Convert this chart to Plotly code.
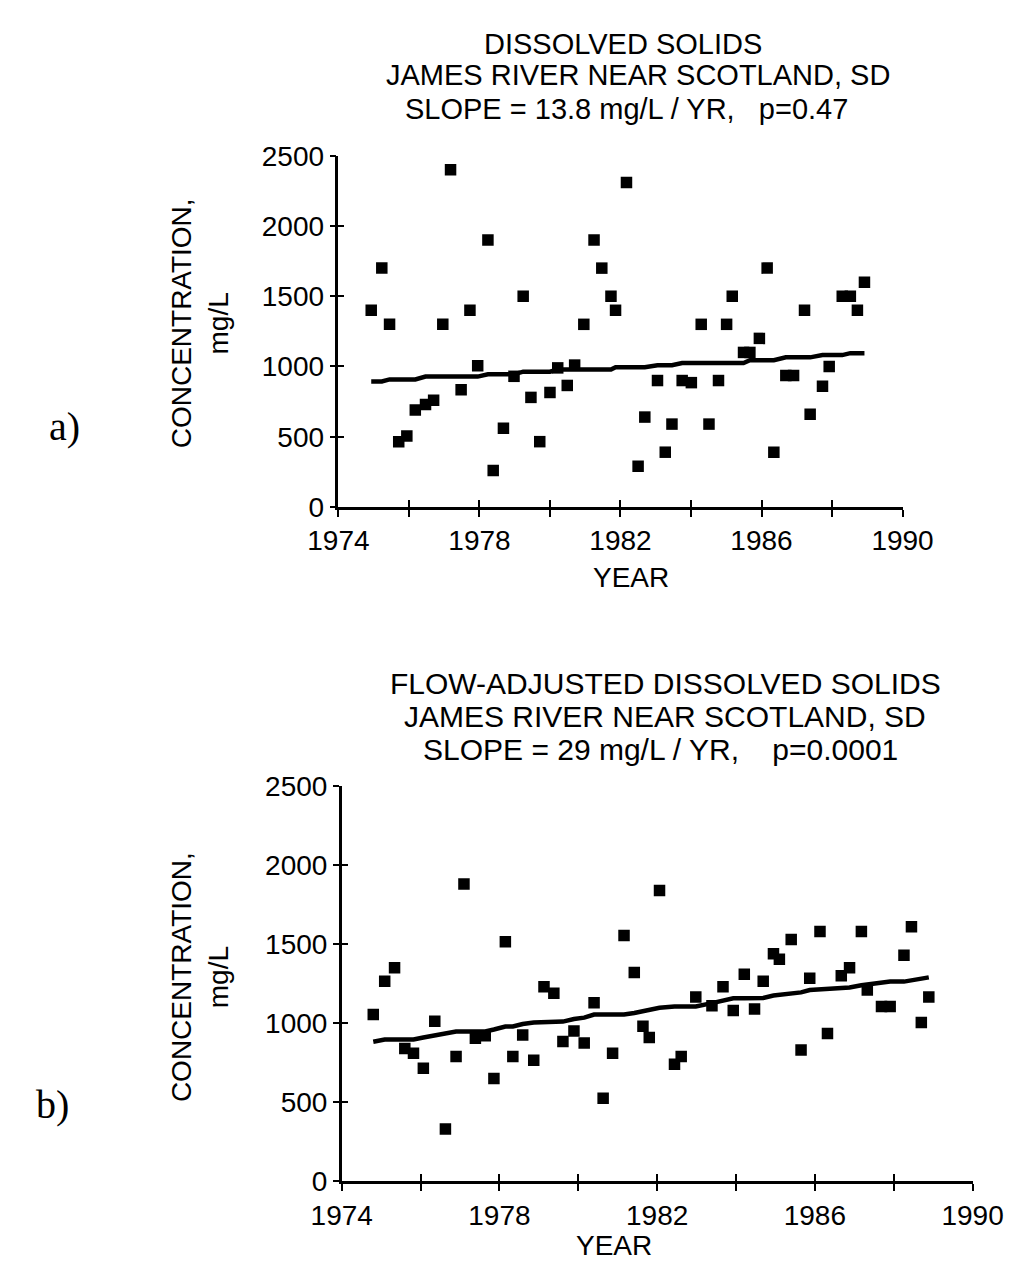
import plotly.graph_objects as go

W, H = 1036, 1281
FONT = "Liberation Sans, Arial, Helvetica, sans-serif"
SERIF = "Liberation Serif, Times New Roman, serif"

# a) dissolved solids, mg/L
years_a = [1974.93, 1975.23, 1975.45, 1975.71, 1975.94, 1976.18, 1976.47, 1976.70, 1976.96, 1977.18,
           1977.48, 1977.73, 1977.95, 1978.24, 1978.39, 1978.68, 1978.98, 1979.24, 1979.46, 1979.71,
           1980.00, 1980.22, 1980.49, 1980.70, 1980.96, 1981.25, 1981.47, 1981.73, 1981.86, 1982.17,
           1982.50, 1982.69, 1983.05, 1983.27, 1983.46, 1983.75, 1984.01, 1984.29, 1984.51, 1984.78,
           1985.01, 1985.17, 1985.49, 1985.67, 1985.94, 1986.16, 1986.35, 1986.69, 1986.91, 1987.22,
           1987.38, 1987.73, 1987.92, 1988.29, 1988.52, 1988.72, 1988.92]
tds_a = [1400, 1700, 1300, 465, 505, 690, 730, 760, 1300, 2400,
         835, 1400, 1005, 1900, 260, 560, 930, 1500, 780, 465,
         815, 990, 865, 1010, 1300, 1900, 1700, 1500, 1400, 2310,
         290, 640, 900, 390, 590, 900, 885, 1300, 590, 900,
         1300, 1500, 1100, 1100, 1200, 1700, 390, 935, 935, 1400,
         660, 860, 1000, 1500, 1500, 1400, 1600]
trend_a = [894, 894, 908, 908, 908, 908, 928, 928, 928, 928,
           928, 928, 928, 944, 944, 944, 944, 963, 963, 963,
           963, 979, 979, 979, 979, 979, 979, 979, 995, 995,
           995, 995, 1009, 1009, 1009, 1025, 1025, 1025, 1025, 1025,
           1025, 1025, 1025, 1044, 1044, 1044, 1044, 1065, 1065, 1065,
           1065, 1081, 1081, 1081, 1095, 1095, 1095]

# b) flow-adjusted dissolved solids, mg/L
years_b = [1974.80, 1975.09, 1975.34, 1975.60, 1975.82, 1976.07, 1976.36, 1976.63, 1976.90, 1977.10,
           1977.39, 1977.64, 1977.86, 1978.15, 1978.34, 1978.59, 1978.87, 1979.13, 1979.38, 1979.61,
           1979.89, 1980.15, 1980.40, 1980.63, 1980.87, 1981.16, 1981.42, 1981.64, 1981.80, 1982.06,
           1982.44, 1982.61, 1982.98, 1983.39, 1983.67, 1983.93, 1984.21, 1984.47, 1984.69, 1984.95,
           1985.10, 1985.40, 1985.65, 1985.87, 1986.13, 1986.32, 1986.67, 1986.88, 1987.18, 1987.33,
           1987.69, 1987.91, 1988.26, 1988.45, 1988.70, 1988.89]
tds_b = [1055, 1265, 1350, 840, 810, 715, 1012, 330, 790, 1880,
         905, 920, 650, 1515, 790, 925, 765, 1230, 1190, 885,
         950, 875, 1130, 525, 810, 1555, 1320, 980, 910, 1839,
         740, 790, 1165, 1110, 1230, 1080, 1310, 1090, 1265, 1440,
         1405, 1530, 830, 1285, 1580, 935, 1300, 1350, 1580, 1210,
         1105, 1105, 1430, 1610, 1005, 1165]
trend_b = [883, 897, 897, 897, 897, 910, 921, 935, 948, 948,
           948, 948, 960, 979, 979, 995, 1004, 1004, 1004, 1010,
           1026, 1035, 1055, 1055, 1055, 1055, 1065, 1078, 1088, 1098,
           1106, 1106, 1106, 1127, 1140, 1158, 1158, 1158, 1160, 1175,
           1178, 1188, 1195, 1210, 1215, 1215, 1226, 1226, 1240, 1246,
           1258, 1263, 1263, 1270, 1277, 1290]

year_ticks = list(range(1974, 1991, 2))
year_labels = [str(y) if (y - 1974) % 4 == 0 else "" for y in year_ticks]
conc_ticks = [0, 500, 1000, 1500, 2000, 2500]


def fx(x):
    return x / W


def fy(y):
    return 1 - y / H


fig = go.Figure()

panels = [
    # (xaxis, yaxis, years, values, trend, x pixel span, y pixel span)
    ("x", "y", years_a, tds_a, trend_a, (318.5, 918.5), (136, 496)),
    ("x2", "y2", years_b, tds_b, trend_b, (322, 993), (782, 1187)),
]

for xa, ya, yrs, vals, trend, _, _ in panels:
    fig.add_trace(go.Scatter(x=yrs, y=vals, mode="markers", xaxis=xa, yaxis=ya,
                             marker=dict(symbol="square", size=11.5, color="black"),
                             showlegend=False))
    fig.add_trace(go.Scatter(x=yrs, y=trend, mode="lines", xaxis=xa, yaxis=ya,
                             line=dict(color="black", width=4.5),
                             showlegend=False))

axis_font = dict(family=FONT, size=28, color="black")
layout = dict(width=W, height=H, margin=dict(l=0, r=0, t=0, b=0),
              paper_bgcolor="white", plot_bgcolor="white", font=axis_font)

for i, (_, _, _, _, _, (x0, x1), (y0, y1)) in enumerate(panels):
    n = "" if i == 0 else "2"
    # main axes (outside ticks) + overlay axes (inside ticks) -> crossing ticks
    ov = str(3 + 2 * i)
    ovy = str(4 + 2 * i)
    layout["xaxis" + n] = dict(domain=[fx(x0), fx(x1)], anchor="y" + n, range=[1974, 1990],
                               tickvals=year_ticks, ticktext=year_labels, ticks="outside",
                               ticklen=7, tickwidth=2, tickcolor="black", showline=True,
                               linecolor="black", linewidth=2.5, showgrid=False, zeroline=False,
                               tickfont=axis_font)
    layout["yaxis" + n] = dict(domain=[fy(y1), fy(y0)], anchor="x" + n, range=[0, 2500],
                               tickvals=conc_ticks, ticks="outside", ticklen=6, tickwidth=2,
                               tickcolor="black", showline=True, linecolor="black", linewidth=2.5,
                               showgrid=False, zeroline=False, tickfont=axis_font)
    layout["xaxis" + ov] = dict(overlaying="x" + n, matches="x" + n, anchor="y" + n,
                                tickvals=year_ticks, ticks="inside", ticklen=7, tickwidth=2,
                                tickcolor="black", showticklabels=False, showline=False,
                                showgrid=False, zeroline=False)
    layout["yaxis" + ovy] = dict(overlaying="y" + n, matches="y" + n, anchor="x" + n,
                                 tickvals=conc_ticks, ticks="inside", ticklen=6, tickwidth=2,
                                 tickcolor="black", showticklabels=False, showline=False,
                                 showgrid=False, zeroline=False)
    # invisible trace so the overlay axes are drawn
    fig.add_trace(go.Scatter(x=[1974], y=[0], xaxis="x" + ov, yaxis="y" + ovy, mode="markers",
                             marker=dict(opacity=0), hoverinfo="skip", showlegend=False))

fig.update_layout(layout)


def note(text, x, y, size=28, family=FONT, angle=0, xanchor="center"):
    fig.add_annotation(text=text, x=fx(x), y=fy(y), xref="paper", yref="paper",
                       showarrow=False, textangle=angle, xanchor=xanchor, yanchor="middle",
                       font=dict(family=family, size=size, color="black"))


# panel a) text
note("DISSOLVED SOLIDS", 621, 22, size=29)
note("JAMES RIVER NEAR SCOTLAND, SD", 637, 53, size=29)
note("SLOPE = 13.8 mg/L / YR,   p=0.47", 625, 88, size=29)
note("CONCENTRATION,<br>mg/L", 171, 308, angle=-90)
note("YEAR", 630, 568)
note("a)", 27, 413, size=40, family=SERIF)

# panel b) text
note("FLOW-ADJUSTED DISSOLVED SOLIDS", 666, 677, size=30)
note("JAMES RIVER NEAR SCOTLAND, SD", 666, 711, size=30)
note("SLOPE = 29 mg/L / YR,    p=0.0001", 661, 745, size=30)
note("CONCENTRATION,<br>mg/L", 171, 978, angle=-90)
note("YEAR", 612, 1253)
note("b)", 34, 1108, size=40, family=SERIF, xanchor="right")

fig.write_html("out.html")
